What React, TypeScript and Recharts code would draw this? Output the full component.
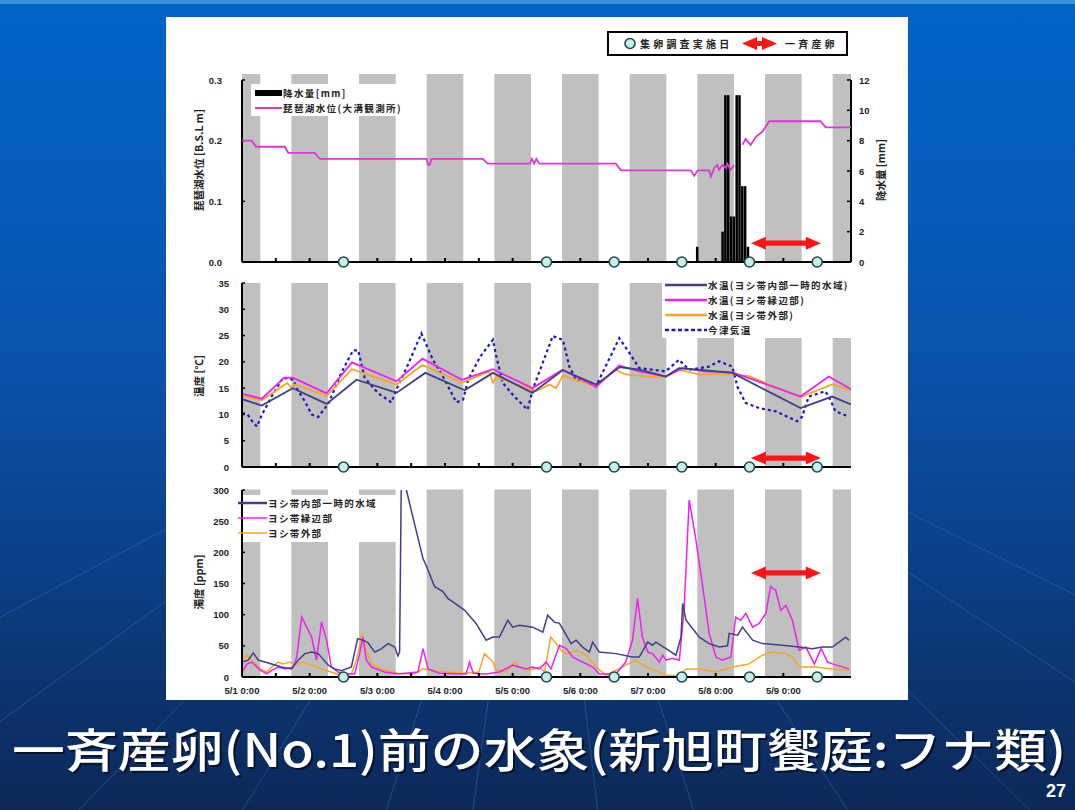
import React from "react";
import { ComposedChart, Line, Bar, XAxis, YAxis, ReferenceArea, ReferenceLine } from "recharts";

// time is counted in hours from 5/1 0:00
const dayLabels = ["5/1 0:00", "5/2 0:00", "5/3 0:00", "5/4 0:00", "5/5 0:00", "5/6 0:00", "5/7 0:00", "5/8 0:00", "5/9 0:00"];
const hourTicks = [0, 12, 24, 36, 48, 60, 72, 84, 96, 108, 120, 132, 144, 156, 168, 180, 192, 204];
const nightStarts = [0, 17.5, 41.5, 65.5, 89.5, 113.5, 137.5, 161.5, 185.5, 209.5];
const nightEnds = [6.5, 30.5, 54.5, 78.5, 102.5, 126.5, 150.5, 174.5, 198.5, 216];
const surveyHours = [36, 108, 132, 156, 180, 204];
const spawnStart = 180.5;
const spawnEnd = 205.3;

// lake level [B.S.L m] and rainfall [mm]
const levelHours = [0, 3.4, 5, 15.2, 16.4, 25.8, 27.6, 65.4, 66, 66.6, 67.2, 85.4, 87.2, 102, 102.8, 103.6, 104.4, 105.4, 132.6, 134.4, 159.2, 160.4, 161.6, 165.7, 166.3, 167.5, 168.6, 169.2, 170.4, 171.6, 172.1, 173.3, 174.5, 176, 177.5, 178.6, 180.4, 182.2, 184.6, 187, 205.2, 207, 216];
const levelValues = [0.2, 0.2, 0.19, 0.19, 0.18, 0.18, 0.17, 0.17, 0.16, 0.16, 0.17, 0.17, 0.162, 0.162, 0.17, 0.162, 0.17, 0.162, 0.162, 0.151, 0.151, 0.142, 0.151, 0.151, 0.141, 0.155, 0.16, 0.152, 0.16, 0.155, 0.162, 0.152, 0.16, null, 0.193, 0.203, 0.193, 0.206, 0.215, 0.232, 0.232, 0.222, 0.222];
const rainHours = [161.5, 170.5, 171.5, 172.5, 173.5, 174.5, 175.5, 176.5, 177.5, 178.5, 179.5];
const rainValues = [1, 2, 11, 11, 3, 3, 11, 11, 5, 5, 1];

// water / air temperature [°C]
const tempInnerHours = [0, 7, 18, 30, 40.6, 54.8, 65, 79, 89, 103, 113.7, 125.6, 134, 141, 150.3, 155, 162, 173.9, 198.1, 209.3, 216];
const tempInnerValues = [12.9, 11.7, 15.0, 12.0, 16.6, 14.1, 17.9, 14.6, 17.9, 14.1, 18.4, 15.7, 19.0, 18.5, 17.2, 18.8, 18.5, 17.9, 11.2, 13.4, 11.9];
const tempEdgeHours = [0, 7, 15, 18, 30, 39, 54.8, 64, 78, 89, 103, 113.7, 125.6, 133.8, 140.9, 150.3, 156.2, 164.4, 173.9, 179.8, 198.1, 208.1, 216];
const tempEdgeValues = [13.9, 13.0, 17.0, 17.0, 14.0, 19.9, 16.3, 20.6, 16.6, 18.6, 15.0, 18.5, 15.3, 19.3, 18.2, 17.2, 18.8, 18.2, 18.0, 16.9, 13.4, 17.2, 14.8];
const tempOuterHours = [0, 7, 16, 17.5, 19, 30, 39, 54.8, 64, 78, 87.7, 89, 90.2, 104.3, 109, 111.4, 113.8, 125.6, 132.5, 136, 144.4, 150.3, 155, 162.1, 173.9, 179.8, 198.1, 209.3, 216];
const tempOuterValues = [13.5, 12.7, 16.0, 15.1, 15.7, 13.5, 18.6, 15.7, 19.4, 16.0, 18.2, 16.0, 17.1, 14.4, 15.7, 15.0, 17.4, 15.3, 18.5, 17.6, 17.2, 17.2, 18.5, 17.6, 17.6, 17.3, 13.3, 15.7, 14.6];
const airHours = [0, 2, 3.5, 5.3, 7.1, 10.6, 14.6, 18.2, 19.9, 22.3, 24.7, 27, 30.6, 35.3, 39.4, 41.2, 43.5, 48.3, 53, 54.8, 58.9, 63.6, 67.7, 71.9, 76, 78.4, 80.2, 84.5, 89, 90.2, 92.5, 96.6, 101.3, 103.1, 110.2, 113.8, 116.1, 118.5, 123.8, 125.5, 133.8, 137.4, 140.9, 150.3, 155, 158.5, 165.6, 169.2, 173.9, 175.7, 178.6, 183.4, 189.3, 196.9, 198.7, 201, 206.9, 208.1, 210.5, 215.2];
const airValues = [10.3, 10.0, 8.8, 7.7, 10.0, 13.5, 17.0, 16.6, 14.5, 12.5, 10.0, 9.5, 12.0, 18.0, 22.2, 22.2, 17.0, 14.0, 12.3, 14.8, 19.5, 25.4, 20.4, 16.6, 12.3, 12.8, 16.6, 21.0, 24.2, 21.0, 16.0, 13.4, 10.9, 14.7, 24.9, 24.2, 19.1, 16.6, 16.0, 15.3, 24.5, 21.7, 18.8, 18.2, 20.4, 18.5, 19.1, 20.1, 19.1, 15.3, 12.2, 11.2, 10.6, 8.7, 9.6, 13.4, 14.4, 13.4, 10.6, 9.6];

// turbidity [ppm]
const turbInnerHours = [0, 2.2, 4, 5.8, 8.1, 10.5, 14, 17.6, 19.9, 22.3, 24.7, 27, 30.6, 32.9, 35.3, 38.8, 41, 43.5, 44.7, 47.1, 49.4, 51.8, 54.2, 55.3, 55.9, 56.6, 58.3, 60.6, 64.2, 65.5, 68.3, 71.3, 73, 74.8, 79, 83, 86.6, 89, 91.3, 94.3, 96, 98.4, 103.1, 106.7, 108.4, 110.8, 112.6, 115, 116.7, 118.5, 120.8, 123.2, 124.4, 126.7, 132.6, 138.5, 140.9, 143.9, 145.6, 146.8, 150.4, 153.9, 155.7, 156.3, 157.5, 162.2, 165.7, 169.3, 172.2, 172.8, 175.8, 177.5, 181.1, 184.6, 191.7, 197.6, 202.3, 205.9, 209.4, 214.1, 215.3];
const turbInnerValues = [24, 27, 38.6, 27, 24, 21, 16, 13, 27, 37.5, 40, 37.5, 19, 13, 10, 16, 61.6, 58, 55, 40, 45, 53.6, 48, 33.7, 40, 360, 300, 257, 190, 177, 145, 137, 126, 120.5, 107, 86, 59, 64, 64, 91, 80, 83, 80, 72, 99, 88, 86, 67, 53.6, 59, 48, 40, 56, 40, 37.5, 32, 32, 56, 51, 56, 45.5, 35, 64, 118, 91, 64, 53.6, 48, 50, 70, 67, 80, 59, 53.6, 51, 48, 45.5, 48, 48, 64, 59];
const turbEdgeHours = [0, 1.8, 3.5, 6.4, 8.8, 10.5, 12.9, 15.2, 18.2, 19.4, 21.2, 23.5, 24.7, 26.4, 28.2, 30, 31.7, 34.1, 36.4, 40, 41.7, 42.9, 44.1, 45.9, 50.6, 55.3, 62.4, 64.2, 66, 70, 79.5, 80.7, 82, 86.6, 91.3, 96, 100.7, 103.1, 105.5, 107.9, 109.6, 112.6, 115, 117.3, 120.8, 124.4, 126.7, 132.6, 136.1, 138.5, 140.3, 142, 143.9, 145.6, 148, 149.2, 150.4, 152.7, 155.1, 156.8, 158.6, 161, 163.4, 165.7, 168.1, 170.4, 173.4, 175.1, 176.9, 178.7, 181.1, 183.4, 185.8, 187.5, 189.3, 191.1, 192.9, 195.2, 197.6, 200, 203, 205.4, 207.7, 209.4, 215.3];
const turbEdgeValues = [8, 21, 24, 11, 5, 10.7, 16, 13, 16, 32, 96, 75, 64, 27, 88, 59, 16, 8, 5, 5, 37.5, 64, 27, 16, 8, 5, 8, 45.5, 13, 6, 5, 24, 6, 5, 8, 19, 13, 16, 13, 24, 13, 51, 45.5, 32, 24, 16, 5, 5, 24, 59, 126, 64, 40, 37.5, 24, 35, 27, 30, 27, 107, 284, 220, 145, 70, 32, 27, 32, 96, 91, 102, 80, 86, 102, 145, 139, 107, 115, 91, 43, 48, 21, 45.5, 24, 21, 13];
const turbOuterHours = [0, 1.8, 4, 6.4, 8.8, 10.5, 12.9, 14.6, 17, 18.8, 21.2, 24.7, 28.2, 31.7, 34.1, 38.8, 40.6, 42.5, 44.1, 45.9, 49.4, 55.3, 61, 64.2, 66, 72, 79, 84, 86, 89, 90.2, 93.7, 96.7, 98.4, 101.9, 105.5, 107.3, 109.5, 111.4, 113.2, 115, 118.5, 122, 125.6, 129.1, 132.6, 136.1, 139.7, 143.3, 146.8, 150.4, 155.1, 157.5, 162.2, 168.1, 174, 179.9, 184.6, 188.1, 192.9, 195.2, 197.6, 203.5, 209.4, 215.3];
const turbOuterValues = [27, 35, 24, 13, 8, 16, 24, 21, 24, 19, 24, 19, 13, 8, 4, 5, 27, 70, 43, 21, 13, 6, 5, 13, 10.7, 8, 6, 8, 37.5, 24, 10.7, 8, 24, 16, 10.7, 16, 8, 64, 53.6, 43, 37.5, 43, 35, 16, 3, 10.7, 19, 27, 16, 10.7, 3, 2, 13, 13, 8, 16, 21, 35, 40, 37.5, 32, 16, 16, 13, 10.7];

const toRows = (hours: number[], values: (number | null)[]) => hours.map((t, i) => ({ t, v: values[i] }));

const C_INNER = "#3f3f8a";
const C_EDGE = "#ee22ee";
const C_OUTER = "#f5a623";
const C_AIR = "#1c1cb8";
const C_LEVEL = "#d83ad8";
const GRAY = "#c0c0c0";
const num = "'Liberation Sans', Arial, sans-serif";
const jp = "'Noto Sans CJK JP', sans-serif";
const axisLine = { stroke: "#000", strokeWidth: 2 };

function timeTick(withLabel: boolean) {
  return (p: any) => {
    const v = p.payload.value;
    const idx = v / 24;
    return (
      <g>
        <line x1={p.x} y1={p.y} x2={p.x} y2={p.y - 4} stroke="#000" strokeWidth={2} />
        {surveyHours.includes(v) && <circle cx={p.x} cy={p.y} r={5} fill="#c9eeea" stroke="#1d4a4a" strokeWidth={1.6} />}
        {withLabel && Number.isInteger(idx) && idx < dayLabels.length && (
          <text x={p.x} y={p.y + 17} textAnchor="middle" fontSize={9.5} fontWeight="bold" fontFamily={num} fill="#222">
            {dayLabels[idx]}
          </text>
        )}
      </g>
    );
  };
}

function leftTick(gap: number, fmt: (v: number) => string) {
  return (p: any) => (
    <g>
      <line x1={p.x} y1={p.y} x2={p.x + 3} y2={p.y} stroke="#000" strokeWidth={1.5} />
      <text x={p.x - gap} y={p.y + 3.5} textAnchor="end" fontSize={9.5} fontWeight="bold" fontFamily={num} fill="#222">
        {fmt(p.payload.value)}
      </text>
    </g>
  );
}

const rightTick = (p: any) => (
  <g>
    <line x1={p.x} y1={p.y} x2={p.x - 4} y2={p.y} stroke="#000" strokeWidth={1.5} />
    <text x={p.x + 8} y={p.y + 3.5} textAnchor="start" fontSize={9.5} fontWeight="bold" fontFamily={num} fill="#222">
      {p.payload.value}
    </text>
  </g>
);

const DoubleArrow = (p: any) => {
  const { x1, x2, y1 } = p;
  const h = 6.5, head = 15, s = 2.6;
  const pts = [
    [x1, y1], [x1 + head, y1 - h], [x1 + head, y1 - s], [x2 - head, y1 - s], [x2 - head, y1 - h],
    [x2, y1], [x2 - head, y1 + h], [x2 - head, y1 + s], [x1 + head, y1 + s], [x1 + head, y1 + h],
  ];
  return <polygon points={pts.map((q) => q.join(",")).join(" ")} fill="#ff1414" />;
};

const nightBands = (yAxisId: any, y2: number) =>
  nightStarts.map((s, i) => (
    <ReferenceArea key={"n" + i} yAxisId={yAxisId} x1={s} x2={nightEnds[i]} y1={0} y2={y2} fill={GRAY} fillOpacity={1} stroke="none" ifOverflow="visible" />
  ));

const vTitle = (text: string, cx: number, cy: number) => (
  <div style={{ position: "absolute", left: cx, top: cy, transform: "translate(-50%, -50%) rotate(-90deg)", whiteSpace: "nowrap", fontFamily: jp, fontWeight: 700, fontSize: 10.5, color: "#222" }}>
    {text}
  </div>
);

const legendRow = (top: number, left: number, sample: React.ReactNode, label: string, width: number) => (
  <div style={{ position: "absolute", left, top: top - 7, height: 14, display: "flex", alignItems: "center", whiteSpace: "nowrap" }}>
    <svg width={width} height={14} style={{ display: "block" }}>{sample}</svg>
    <span style={{ fontFamily: jp, fontWeight: 700, fontSize: 9.5, letterSpacing: 1.4, color: "#222" }}>{label}</span>
  </div>
);

export default function App() {
  const levelRows = toRows(levelHours, levelValues);
  const rainRows = rainHours.map((t, i) => ({ t, rain: rainValues[i] }));
  const xAxisCommon = {
    dataKey: "t", type: "number" as const, domain: [0, 216], ticks: hourTicks, tickSize: 0, tickMargin: 0,
    tickLine: false, axisLine, allowDataOverflow: true, interval: 0 as const,
  };

  return (
    <div style={{ position: "absolute", left: 0, top: 0, width: 1075, height: 810, overflow: "hidden" }}>
      <svg width={1075} height={810} style={{ position: "absolute", left: 0, top: 0 }}>
        <defs>
          <linearGradient id="bg" x1="0" y1="0" x2="0" y2="1">
            <stop offset="0" stopColor="#0064c8" />
            <stop offset="0.45" stopColor="#0a52ac" />
            <stop offset="1" stopColor="#0c2858" />
          </linearGradient>
        </defs>
        <rect width={1075} height={810} fill="url(#bg)" />
        <rect width={1075} height={4} fill="#3f8fe0" />
        {[-400, -150, 60, 230, 380, 470, 600, 700, 860, 1050, 1300, 1550].map((x, i) => (
          <line key={i} x1={540} y1={330} x2={x} y2={830} stroke="#7fb0ff" strokeOpacity={0.22} strokeWidth={1} />
        ))}
        <rect x={166} y={17} width={742} height={683} fill="#fff" />
        <text x={14} y={769} fontSize={46} fontFamily={jp} fontWeight={500} fill="#08122a" textLength={1054} lengthAdjust="spacingAndGlyphs">
          一斉産卵(No.1)前の水象(新旭町饗庭:フナ類)
        </text>
        <text x={12} y={767} fontSize={46} fontFamily={jp} fontWeight={500} fill="#ffffff" textLength={1054} lengthAdjust="spacingAndGlyphs">
          一斉産卵(No.1)前の水象(新旭町饗庭:フナ類)
        </text>
        <text x={1066} y={797} fontSize={18} fontFamily={num} fontWeight="bold" fill="#ffffff" textAnchor="end">27</text>
      </svg>

      {/* rainfall with axes (bottom layer) */}
      <div style={{ position: "absolute", left: 166, top: 60 }}>
        <ComposedChart width={742} height={220} data={rainRows} margin={{ top: 20, right: 0, bottom: 0, left: 0 }}>
          <XAxis {...xAxisCommon} height={18} tick={timeTick(false)} />
          <YAxis yAxisId="left" domain={[0, 0.3]} ticks={[0, 0.1, 0.2, 0.3]} width={76} tickSize={0} tickMargin={0} tickLine={false} axisLine={axisLine} tick={leftTick(20, (v) => v.toFixed(1))} allowDataOverflow />
          <YAxis yAxisId="right" orientation="right" domain={[0, 12]} ticks={[0, 2, 4, 6, 8, 10, 12]} width={57} tickSize={0} tickMargin={0} tickLine={false} axisLine={axisLine} tick={rightTick} />
          {nightBands("left", 0.31)}
          <Bar yAxisId="right" dataKey="rain" fill="#000" barSize={3} barCategoryGap={0} isAnimationActive={false} />
          <ReferenceLine yAxisId="left" segment={[{ x: spawnStart, y: 0.031 }, { x: spawnEnd, y: 0.031 }]} shape={DoubleArrow} ifOverflow="visible" />
        </ComposedChart>
      </div>
      {/* lake level (overlay, same geometry) */}
      <div style={{ position: "absolute", left: 166, top: 60 }}>
        <ComposedChart width={742} height={220} margin={{ top: 20, right: 57, bottom: 18, left: 76 }}>
          <XAxis dataKey="t" type="number" domain={[0, 216]} hide allowDataOverflow />
          <YAxis domain={[0, 0.3]} hide allowDataOverflow />
          <Line data={levelRows} dataKey="v" type="linear" stroke={C_LEVEL} strokeWidth={1.8} dot={false} isAnimationActive={false} />
        </ComposedChart>
      </div>

      {/* temperature */}
      <div style={{ position: "absolute", left: 166, top: 270 }}>
        <ComposedChart width={742} height={210} margin={{ top: 13, right: 57, bottom: 0, left: 0 }}>
          <XAxis {...xAxisCommon} height={13} tick={timeTick(false)} />
          <YAxis domain={[0, 35]} ticks={[0, 5, 10, 15, 20, 25, 30, 35]} width={76} tickSize={0} tickMargin={0} tickLine={false} axisLine={axisLine} tick={leftTick(13, (v) => String(v))} />
          {nightBands(0, 35)}
          <Line data={toRows(airHours, airValues)} dataKey="v" stroke={C_AIR} strokeWidth={2.2} strokeDasharray="3 3" dot={false} isAnimationActive={false} />
          <Line data={toRows(tempOuterHours, tempOuterValues)} dataKey="v" stroke={C_OUTER} strokeWidth={1.8} dot={false} isAnimationActive={false} />
          <Line data={toRows(tempEdgeHours, tempEdgeValues)} dataKey="v" stroke={C_EDGE} strokeWidth={1.8} dot={false} isAnimationActive={false} />
          <Line data={toRows(tempInnerHours, tempInnerValues)} dataKey="v" stroke={C_INNER} strokeWidth={1.8} dot={false} isAnimationActive={false} />
          <ReferenceLine segment={[{ x: spawnStart, y: 1.7 }, { x: spawnEnd, y: 1.7 }]} shape={DoubleArrow} ifOverflow="visible" />
        </ComposedChart>
      </div>

      {/* turbidity */}
      <div style={{ position: "absolute", left: 166, top: 480 }}>
        <ComposedChart width={742} height={220} margin={{ top: 10, right: 57, bottom: 0, left: 0 }}>
          <XAxis {...xAxisCommon} height={23} tick={timeTick(true)} />
          <YAxis domain={[0, 300]} ticks={[0, 50, 100, 150, 200, 250, 300]} width={76} tickSize={0} tickMargin={0} tickLine={false} axisLine={axisLine} tick={leftTick(13, (v) => String(v))} allowDataOverflow />
          {nightBands(0, 301)}
          <Line data={toRows(turbOuterHours, turbOuterValues)} dataKey="v" stroke={C_OUTER} strokeWidth={1.5} dot={false} isAnimationActive={false} />
          <Line data={toRows(turbEdgeHours, turbEdgeValues)} dataKey="v" stroke={C_EDGE} strokeWidth={1.5} dot={false} isAnimationActive={false} />
          <Line data={toRows(turbInnerHours, turbInnerValues)} dataKey="v" stroke={C_INNER} strokeWidth={1.5} dot={false} isAnimationActive={false} />
          <ReferenceLine segment={[{ x: spawnStart, y: 167 }, { x: spawnEnd, y: 167 }]} shape={DoubleArrow} ifOverflow="visible" />
        </ComposedChart>
      </div>

      {/* axis titles */}
      {vTitle("琵琶湖水位 [B.S.L m]", 198, 160)}
      {vTitle("降水量 [mm]", 880, 170)}
      {vTitle("温度 [℃]", 198, 376)}
      {vTitle("濁度 [ppm]", 198, 582)}

      {/* survey / spawning legend */}
      <div style={{ position: "absolute", left: 607, top: 31, width: 237, height: 21, border: "2px solid #000", background: "#fff" }}>
        <svg width={237} height={21} style={{ position: "absolute", left: 0, top: 0 }}>
          <circle cx={21} cy={10.5} r={5} fill="#c9eeea" stroke="#1d4a4a" strokeWidth={1.6} />
          <DoubleArrow x1={133} x2={168} y1={10.5} />
        </svg>
        <span style={{ position: "absolute", left: 31, top: 3, fontFamily: jp, fontWeight: 700, fontSize: 10, letterSpacing: 3.2, whiteSpace: "nowrap", color: "#222" }}>集卵調査実施日</span>
        <span style={{ position: "absolute", left: 176, top: 3, fontFamily: jp, fontWeight: 700, fontSize: 10, letterSpacing: 3.2, whiteSpace: "nowrap", color: "#222" }}>一斉産卵</span>
      </div>

      {/* level legend */}
      <div style={{ position: "absolute", left: 251, top: 84, width: 172, height: 32, background: "#fff" }} />
      {legendRow(93, 255, <rect x={0} y={4} width={27} height={6} fill="#000" />, "降水量[mm]", 28)}
      {legendRow(108, 255, <line x1={0} y1={7} x2={27} y2={7} stroke={C_LEVEL} strokeWidth={2} />, "琵琶湖水位(大溝観測所)", 28)}

      {/* temperature legend */}
      <div style={{ position: "absolute", left: 662, top: 279, width: 203, height: 59, background: "#fff" }} />
      {legendRow(285, 665, <line x1={0} y1={7} x2={42} y2={7} stroke={C_INNER} strokeWidth={2.5} />, "水温(ヨシ帯内部一時的水域)", 43)}
      {legendRow(300, 665, <line x1={0} y1={7} x2={42} y2={7} stroke={C_EDGE} strokeWidth={2.5} />, "水温(ヨシ帯縁辺部)", 43)}
      {legendRow(315, 665, <line x1={0} y1={7} x2={42} y2={7} stroke={C_OUTER} strokeWidth={2.5} />, "水温(ヨシ帯外部)", 43)}
      {legendRow(330, 665, <line x1={0} y1={7} x2={42} y2={7} stroke={C_AIR} strokeWidth={2.5} strokeDasharray="4 2.5" />, "今津気温", 43)}

      {/* turbidity legend */}
      <div style={{ position: "absolute", left: 243, top: 495, width: 154, height: 47, background: "#fff" }} />
      {legendRow(503, 238, <line x1={0} y1={7} x2={29} y2={7} stroke={C_INNER} strokeWidth={2.5} />, "ヨシ帯内部一時的水域", 30)}
      {legendRow(518, 238, <line x1={0} y1={7} x2={29} y2={7} stroke={C_EDGE} strokeWidth={1.5} />, "ヨシ帯縁辺部", 30)}
      {legendRow(533, 238, <line x1={0} y1={7} x2={29} y2={7} stroke={C_OUTER} strokeWidth={1.5} />, "ヨシ帯外部", 30)}
    </div>
  );
}
